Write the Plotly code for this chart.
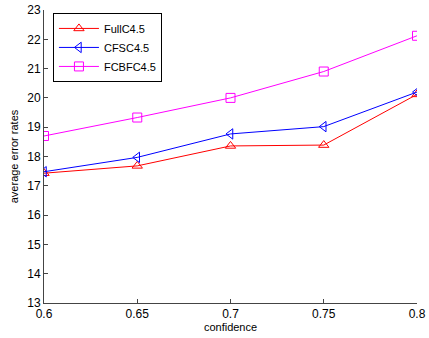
import plotly.graph_objects as go

confidence = [0.6, 0.65, 0.7, 0.75, 0.8]
full_c45 = [17.43, 17.68, 18.36, 18.39, 20.12]
cfs_c45 = [17.48, 17.97, 18.77, 19.02, 20.2]
fcbf_c45 = [18.7, 19.33, 20.0, 20.9, 22.12]

series = [
    ("FullC4.5", full_c45, "#ff0000", "triangle-up-open"),
    ("CFSC4.5", cfs_c45, "#0000ff", "triangle-left-open"),
    ("FCBFC4.5", fcbf_c45, "#ff00ff", "square-open"),
]

fig = go.Figure()
for name, vals, col, sym in series:
    fig.add_trace(go.Scatter(
        x=confidence, y=vals, name=name, mode="lines+markers",
        line=dict(color=col, width=1),
        marker=dict(symbol=sym, size=9, color=col, line=dict(color=col, width=1)),
    ))

font = "Liberation Sans, Arial, sans-serif"
fig.update_layout(
    width=429, height=338,
    margin=dict(l=44, r=12, t=10, b=35),
    paper_bgcolor="white", plot_bgcolor="white",
    font=dict(family=font, size=11, color="black"),
    showlegend=True,
    legend=dict(
        x=0.024, y=0.99, xanchor="left", yanchor="top",
        bgcolor="white", bordercolor="black", borderwidth=1,
        font=dict(size=11), tracegroupgap=0, itemwidth=40,
    ),
    xaxis=dict(
        range=[0.6, 0.8], tickvals=confidence,
        ticktext=["0.6", "0.65", "0.7", "0.75", "0.8"],
        showgrid=False, zeroline=False, showline=True, linecolor="#444", linewidth=1,
        ticks="inside", ticklen=4, tickcolor="#444", automargin=False,
        tickfont=dict(size=12),
        title=dict(text="confidence", font=dict(size=11), standoff=1),
    ),
    yaxis=dict(
        range=[13, 23], dtick=1,
        showgrid=False, zeroline=False, showline=True, linecolor="#444", linewidth=1,
        ticks="inside", ticklen=4, tickcolor="#444", automargin=False,
        tickfont=dict(size=12),
        title=dict(text="average error rates", font=dict(size=11), standoff=6),
    ),
)

fig.write_html("out.html")
